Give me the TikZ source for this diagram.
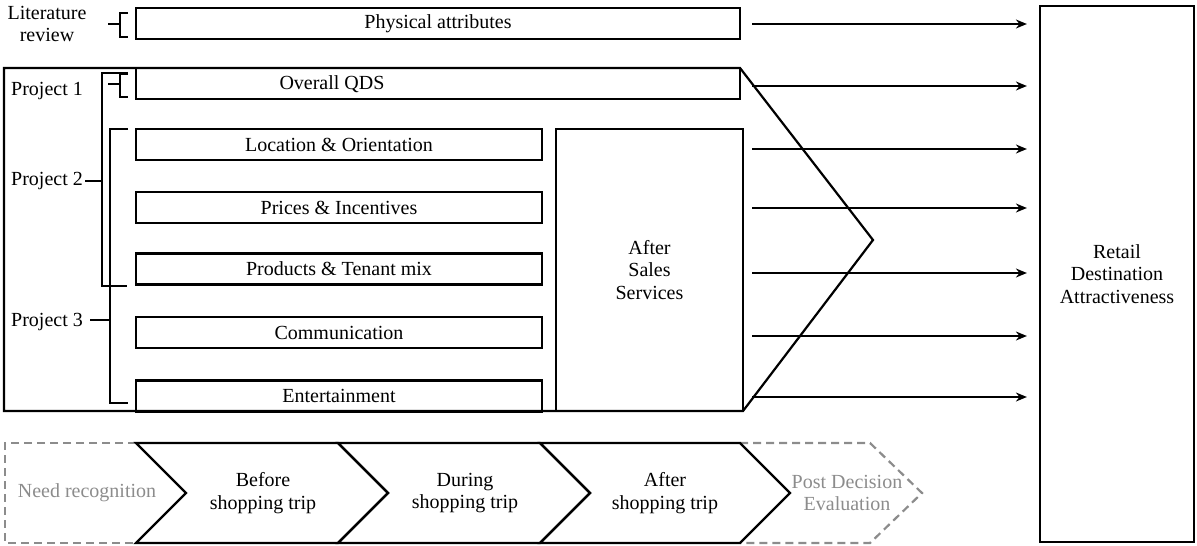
\documentclass[tikz,border=0pt]{standalone}
\usepackage{fontspec}
\setmainfont{Liberation Serif}
\usepackage{tikz}
\usetikzlibrary{calc, positioning, arrows.meta}
\usepackage{xcolor}
\definecolor{stageGray}{RGB}{140, 140, 140}

\begin{document}
\begin{tikzpicture}[x=1pt, y=-1pt, >={Stealth[length=11pt, width=9pt]},
    font=\fontsize{20}{22.5}\selectfont,
    box/.style={draw, line width=2.2pt, inner sep=0pt, minimum height=31pt},
    brk/.style={line width=1.4pt},
    arr/.style={->, line width=1.6pt, shorten >=12pt},
    stage/.style={line width=2.2pt, line join=miter},
    ghost/.style={line width=2.2pt, stageGray, dash pattern=on 8pt off 5pt}]
  \useasboundingbox (0,0) rectangle (1197,546);

  % literature row
  \node[box, minimum width=604pt] (phys) at (438,23.5) {Physical attributes};
  \node[align=center] (lit) at (47,24) {Literature\\review};
  \draw[brk] (108,24) -- (120,24);
  \draw[brk] (128,13) -- (120,13) -- (120,37) -- (128,37);

  % project frame
  \draw[line width=2.2pt] (4,68) -- (740,68) -- (873,240) -- (743,411) -- (4,411) -- cycle;
  \node[box, minimum width=604pt] (qds) at (438,83.5) {};
  \node (qdsT) at (332,84) {Overall QDS};

  \node[box, minimum width=406pt] (loc) at (339,144.5) {Location \& Orientation};
  \node[box, minimum width=406pt] (pri) at (339,207.5) {Prices \& Incentives};
  \node[box, minimum width=406pt] (pro) at (339,269) {Products \& Tenant mix};
  \node[box, minimum width=406pt] (com) at (339,332.5) {Communication};
  \node[box, minimum width=406pt] (ent) at (339,396) {Entertainment};
  \node[box, minimum width=187pt, minimum height=282pt, align=center] (ass) at (649.5,270) {After\\Sales\\Services};

  % project labels and brackets
  \node[anchor=west, inner sep=0pt] (p1) at (11,91) {Project 1};
  \node[anchor=west, inner sep=0pt] (p2) at (11,181) {Project 2};
  \node[anchor=west, inner sep=0pt] (p3) at (11,322) {Project 3};
  \draw[brk] (108,84) -- (120,84);
  \draw[brk] (128,74) -- (120,74) -- (120,97) -- (128,97);
  \draw[brk] (85,181) -- (102,181);
  \draw[brk] (128,73) -- (102,73) -- (102,286) -- (127,286);
  \draw[brk] (90,320) -- (110,320);
  \draw[brk] (128,129) -- (110,129) -- (110,403) -- (128,403);

  % outcome
  \node[box, minimum width=154pt, minimum height=536pt, align=center] (ret) at (1117,274) {Retail\\Destination\\Attractiveness};
  \foreach \yy [count=\i] in {24,86,149,208,273,336,397} {
    \coordinate (s\i) at (752,\yy);
    \draw[arr] (s\i) -- (ret.west |- s\i);
  }

  % shopping stages
  \draw[ghost] (136,443) -- (5,443) -- (5,543) -- (136,543);
  \draw[ghost] (740,443) -- (870,443) -- (922,493) -- (870,543) -- (740,543);
  \foreach \xa/\xb in {136/338, 338/540, 540/740} {
    \draw[stage] (\xa,443) -- (\xb,443) -- (\xb+50,493) -- (\xb,543) -- (\xa,543) -- (\xa+50,493) -- cycle;
  }
  \node[stageGray] (need) at (87,493) {Need recognition};
  \node[align=center] (bef) at (263,493) {Before\\shopping trip};
  \node[align=center] (dur) at (465,493) {During\\shopping trip};
  \node[align=center] (aft) at (665,493) {After\\shopping trip};
  \node[stageGray, align=center] (post) at (847,493) {Post Decision\\Evaluation};
\end{tikzpicture}
\end{document}
